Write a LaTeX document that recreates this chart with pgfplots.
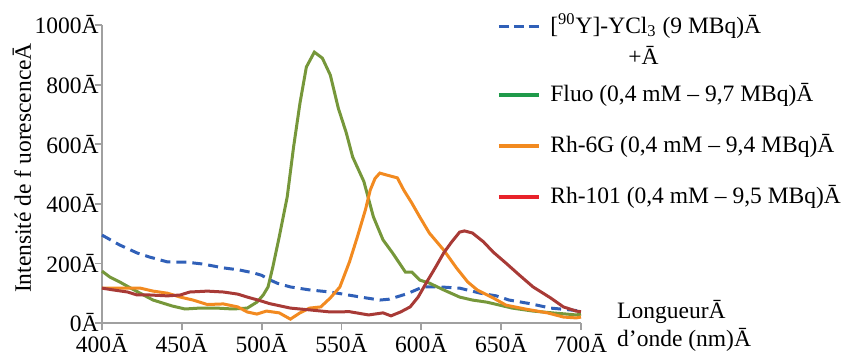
\documentclass[border=0pt]{standalone}
\usepackage{fontspec}
\setmainfont{Liberation Serif}
\usepackage{pgfplots}
\pgfplotsset{compat=1.18}
\definecolor{cblue}{HTML}{3060B8}
\definecolor{cgreen}{HTML}{76973A}
\definecolor{corange}{HTML}{F28A20}
\definecolor{cred}{HTML}{A83A36}
\definecolor{lgreen}{HTML}{1F9A4A}
\definecolor{lred}{HTML}{E8222A}
\definecolor{axgray}{HTML}{A0A0A0}
\begin{document}
\fontsize{11.75}{14}\selectfont
\begin{tikzpicture}
\path[use as bounding box] (-51pt,-18.5pt) rectangle (370.5pt,161.5pt);
\begin{axis}[
  at={(0,0)}, anchor=south west,
  scale only axis, width=239.5pt, height=149pt,
  xmin=400, xmax=700, ymin=0, ymax=1000,
  axis lines=left,
  axis line style={-, draw=axgray, line width=0.9pt},
  tick style={draw=axgray, line width=0.9pt},
  major tick length=3.5pt, tick align=outside,
  xtick={400,450,500,550,600,650,700},
  xticklabels={400Ā,450Ā,500Ā,550Ā,600Ā,650Ā,700Ā},
  ytick={0,200,400,600,800,1000},
  yticklabels={0Ā,200Ā,400Ā,600Ā,800Ā,1000Ā},
  xticklabel style={inner sep=1pt, yshift=-1pt},
  yticklabel style={inner sep=1pt, xshift=3pt},
  xlabel={LongueurĀ\\d’onde (nm)Ā},
  xlabel style={at={(axis description cs:1,0)}, anchor=west, align=left, xshift=14pt, yshift=-1.5pt},
  ylabel={Intensité de f uorescenceĀ},
  ylabel style={at={(axis description cs:-0.167,0.52)}, anchor=center},
  clip=false,
]
\addplot[cblue, line width=1.5pt, dash pattern=on 5pt off 3pt] coordinates {
(400,295)(411,262)(422,235)(430,221)(441,205)(453,204)(463,198)(476,185)(486,178)(495,168)
(500,160)(505,145)(510,133)(518,121)(530,111)(543,104)(553,95)(562,87)(574,77)(580,80)
(591,98)(601,121)(612,121)(624,117)(637,100)(647,91)(655,77)(668,65)(681,50)(693,44)(700,40)};
\addplot[cgreen, line width=1.5pt] coordinates {
(400,174)(405,154)(411,138)(418,117)(426,94)(432,77)(438,67)(444,57)(452,47)(461,50)
(472,50)(482,47)(491,50)(497,70)(501,94)(504,121)(507,188)(511,289)(516,423)(520,591)
(524,738)(528,859)(533,909)(538,889)(543,832)(548,721)(553,638)(557,557)(564,475)(570,356)
(576,279)(582,235)(590,171)(594,171)(599,144)(605,134)(614,111)(624,87)(632,77)(641,70)
(649,60)(657,50)(670,40)(682,34)(691,30)(697,27)(700,30)};
\addplot[corange, line width=1.5pt] coordinates {
(400,117)(411,117)(424,117)(432,107)(441,100)(449,87)(457,77)(466,62)(476,64)(485,54)
(491,37)(497,30)(503,40)(511,34)(518,13)(524,34)(530,50)(537,54)(543,84)(549,121)
(555,205)(560,290)(565,380)(568,446)(571,485)(574,503)(578,497)(585,487)(589,446)(594,403)
(599,356)(605,302)(614,245)(622,185)(629,138)(635,111)(645,84)(653,60)(665,47)(679,34)
(689,20)(697,17)(700,20)};
\addplot[cred, line width=1.5pt] coordinates {
(400,117)(407,111)(416,104)(422,94)(430,94)(441,91)(449,94)(455,104)(466,107)(476,104)
(485,97)(491,87)(499,75)(505,65)(518,50)(530,44)(543,37)(555,38)(567,27)(576,34)
(581,24)(587,37)(593,54)(598,87)(603,134)(609,188)(614,235)(619,272)(624,305)(627,309)
(632,302)(639,272)(645,238)(653,201)(662,158)(670,121)(681,84)(689,54)(697,40)(700,38)};
% legend
\draw[cblue, line width=1.75pt, dash pattern=on 5pt off 2.4pt] (axis description cs:0.8288,0.995) -- (axis description cs:0.9123,0.995);
\draw[lgreen, line width=1.75pt] (axis description cs:0.8288,0.765) -- (axis description cs:0.9123,0.765);
\draw[corange, line width=1.75pt] (axis description cs:0.8288,0.594) -- (axis description cs:0.9123,0.594);
\draw[lred, line width=1.75pt] (axis description cs:0.8288,0.423) -- (axis description cs:0.9123,0.423);
\node[anchor=base west, inner sep=0pt] at (axis description cs:0.9353,0.972) {[\textsuperscript{90}Y]-YCl\textsubscript{3} (9 MBq)Ā};
\node[anchor=base west, inner sep=0pt] at (axis description cs:1.098,0.866) {+Ā};
\node[anchor=base west, inner sep=0pt] at (axis description cs:0.9353,0.7426) {Fluo (0,4 mM – 9,7 MBq)Ā};
\node[anchor=base west, inner sep=0pt] at (axis description cs:0.9353,0.5715) {Rh-6G (0,4 mM – 9,4 MBq)Ā};
\node[anchor=base west, inner sep=0pt] at (axis description cs:0.9353,0.4003) {Rh-101 (0,4 mM – 9,5 MBq)Ā};
\end{axis}
\end{tikzpicture}
\end{document}
